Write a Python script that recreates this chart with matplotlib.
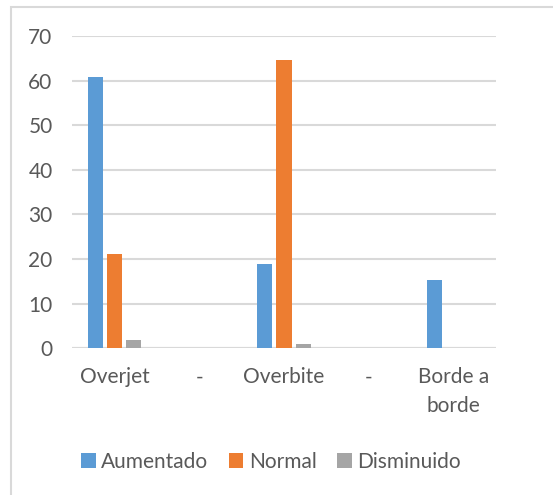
import matplotlib
matplotlib.use("Agg")
import matplotlib.pyplot as plt
import numpy as np
from matplotlib.patches import Rectangle

categories = ["Overjet", "-", "Overbite", "-", "Borde a\nborde"]
series_names = ["Aumentado", "Normal", "Disminuido"]
aumentado = [61, 0, 18.9, 0, 15.3]
normal = [21.1, 0, 64.7, 0, 0]
disminuido = [1.9, 0, 0.8, 0, 0]
yticks = [0, 10, 20, 30, 40, 50, 60, 70]

colors = ["#5b9bd5", "#ed7d31", "#a5a5a5"]
text_color = "#595959"
plt.rcParams['font.family'] = ['Lato', 'DejaVu Sans']

fig = plt.figure(figsize=(5.53, 4.95), dpi=100)
ax = fig.add_axes([72/553, 1-348/495, 424/553, (348-36.5)/495])

x = np.arange(len(categories))
w = 0.177
step = 0.225
for i, (vals, name) in enumerate(zip([aumentado, normal, disminuido], series_names)):
    ax.bar(x + (i-1)*step, vals, width=w, color=colors[i], label=name, zorder=3)

ax.set_xlim(-0.5, len(categories)-0.5)
ax.set_ylim(0, 70)
ax.set_yticks(yticks)
ax.yaxis.grid(True, color="#d9d9d9", linewidth=1.5, zorder=0)
ax.set_axisbelow(True)
for s in ax.spines.values():
    s.set_visible(False)
ax.axhline(0, color="#d9d9d9", linewidth=1.5, zorder=1)
ax.tick_params(axis='both', length=0, labelsize=15, colors=text_color)
ax.tick_params(axis='y', pad=14)
ax.tick_params(axis='x', pad=14)
ax.set_xticks(x)
ax.set_xticklabels(categories, linespacing=1.55)

leg = fig.legend(loc="center", bbox_to_anchor=(0.49, 1-462/495), ncol=3, frameon=False,
                 fontsize=15, handlelength=0.7, handleheight=0.7, handletextpad=0.25,
                 columnspacing=1.0, labelcolor=text_color)

fig.patches.append(Rectangle((11/553, -0.1), 1.2, 1.1-7/495, transform=fig.transFigure,
                             fill=False, edgecolor="#d9d9d9", linewidth=1.5))

fig.savefig("out.png", dpi=100)
